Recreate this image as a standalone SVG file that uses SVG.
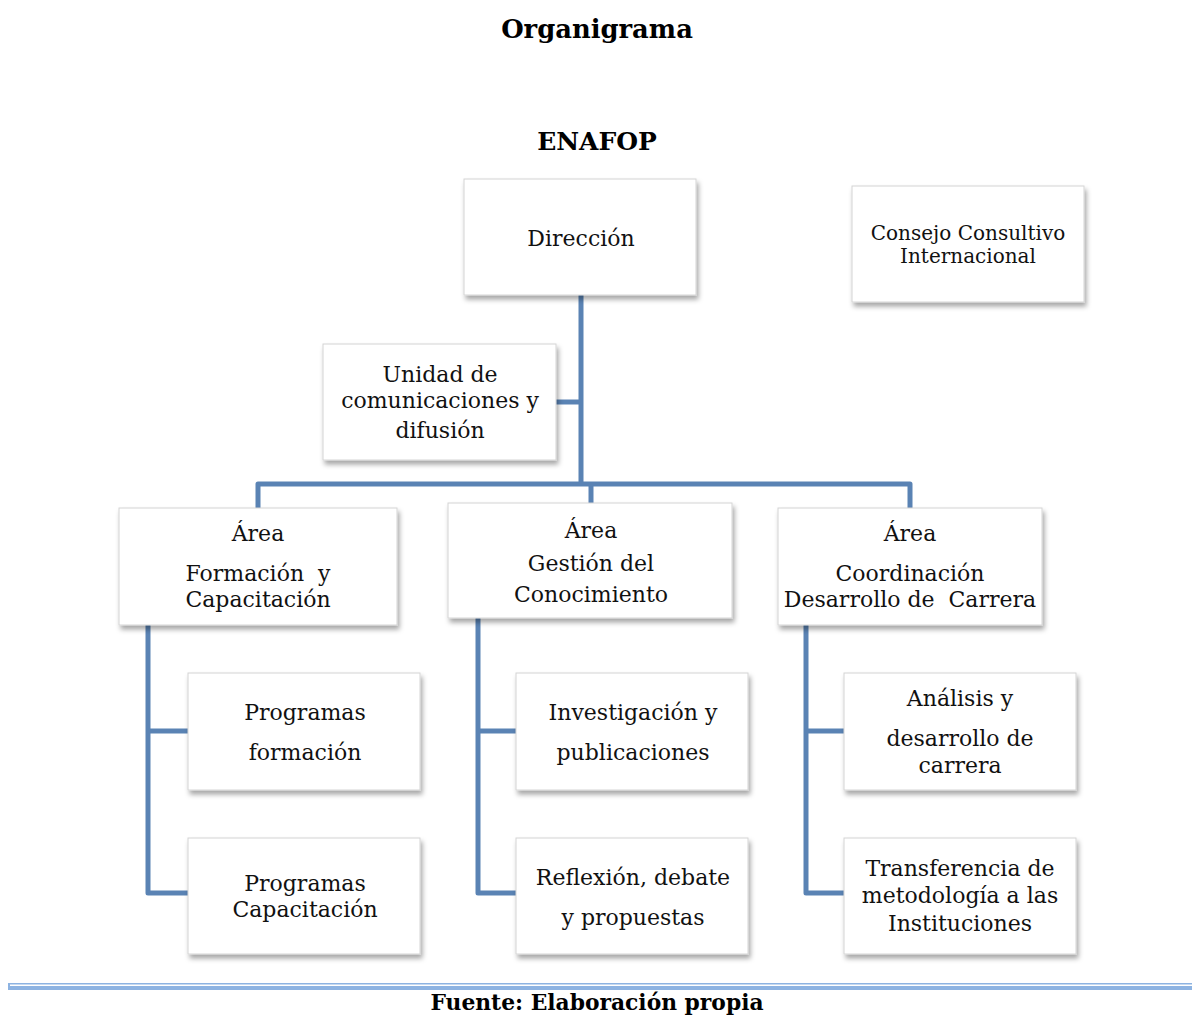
<svg xmlns="http://www.w3.org/2000/svg" width="1192" height="1017" viewBox="0 0 1192 1017">
<defs>
<filter id="sh" x="-10%" y="-10%" width="125%" height="130%">
<feDropShadow dx="2" dy="4" stdDeviation="2.5" flood-color="#000" flood-opacity="0.35"/>
</filter>
<style>
.box{fill:#fff;stroke:#d4d4d4;stroke-width:1;filter:url(#sh)}
.t{font-family:"DejaVu Serif","Liberation Serif",serif;font-size:22px;fill:#111;text-anchor:middle}
.s{font-size:20px}
.h{font-family:"DejaVu Serif","Liberation Serif",serif;font-weight:bold;fill:#000;text-anchor:middle}
.c{fill:none;stroke:#5a83b4;stroke-width:5;stroke-linejoin:round}
</style>
</defs>
<rect width="1192" height="1017" fill="#fff"/>
<text class="h" x="597" y="38" font-size="25.8">Organigrama</text>
<text class="h" x="597" y="150" font-size="25">ENAFOP</text>
<g id="connectors">
<path class="c" d="M581 295 V484"/>
<path class="c" d="M556 402 H581"/>
<path class="c" d="M258 508 V484 H910 V508"/>
<path class="c" d="M591 484 V503"/>
<path class="c" d="M148 625 V893 H188 M148 731 H188"/>
<path class="c" d="M478 618 V893 H516 M478 731 H516"/>
<path class="c" d="M806 625 V893 H844 M806 731 H844"/>
</g>
<g id="direccion"><rect class="box" x="464" y="179" width="232" height="116"/><text class="t" x="581" y="246">Dirección</text></g>
<g id="consejo"><rect class="box" x="852" y="186" width="232" height="116"/><text class="t s" x="968" y="240">Consejo Consultivo</text><text class="t s" x="968" y="263">Internacional</text></g>
<g id="unidad"><rect class="box" x="323" y="344" width="233" height="116"/><text class="t" x="440" y="382">Unidad de</text><text class="t" x="440" y="408">comunicaciones y</text><text class="t" x="440" y="438">difusión</text></g>
<g id="area-formacion"><rect class="box" x="119" y="508" width="278" height="117"/><text class="t" x="258" y="541">Área</text><text class="t" x="258" y="581" xml:space="preserve">Formación  y</text><text class="t" x="258" y="607">Capacitación</text></g>
<g id="area-gestion"><rect class="box" x="448" y="503" width="284" height="115"/><text class="t" x="591" y="538">Área</text><text class="t" x="591" y="571">Gestión del</text><text class="t" x="591" y="602">Conocimiento</text></g>
<g id="area-coordinacion"><rect class="box" x="778" y="508" width="264" height="117"/><text class="t" x="910" y="541">Área</text><text class="t" x="910" y="581">Coordinación</text><text class="t" x="910" y="607" xml:space="preserve">Desarrollo de  Carrera</text></g>
<g id="prog-formacion"><rect class="box" x="188" y="673" width="232" height="117"/><text class="t" x="305" y="720">Programas</text><text class="t" x="305" y="760">formación</text></g>
<g id="prog-capacitacion"><rect class="box" x="188" y="838" width="232" height="116"/><text class="t" x="305" y="891">Programas</text><text class="t" x="305" y="917">Capacitación</text></g>
<g id="investigacion"><rect class="box" x="516" y="673" width="232" height="117"/><text class="t" x="633" y="720">Investigación y</text><text class="t" x="633" y="760">publicaciones</text></g>
<g id="reflexion"><rect class="box" x="516" y="838" width="232" height="116"/><text class="t" x="633" y="885">Reflexión, debate</text><text class="t" x="633" y="925">y propuestas</text></g>
<g id="analisis"><rect class="box" x="844" y="673" width="232" height="117"/><text class="t" x="960" y="706">Análisis y</text><text class="t" x="960" y="746">desarrollo de</text><text class="t" x="960" y="773">carrera</text></g>
<g id="transferencia"><rect class="box" x="844" y="838" width="232" height="116"/><text class="t" x="960" y="876">Transferencia de</text><text class="t" x="960" y="903">metodología a las</text><text class="t" x="960" y="931">Instituciones</text></g>
<rect x="8" y="983" width="1184" height="1.5" fill="#8db3e2"/>
<rect x="8" y="986" width="1184" height="4" fill="#8db3e2"/>
<rect x="8" y="983" width="2" height="7" fill="#8db3e2"/>
<text class="h" x="597" y="1010" font-size="21.8">Fuente: Elaboración propia</text>
</svg>
